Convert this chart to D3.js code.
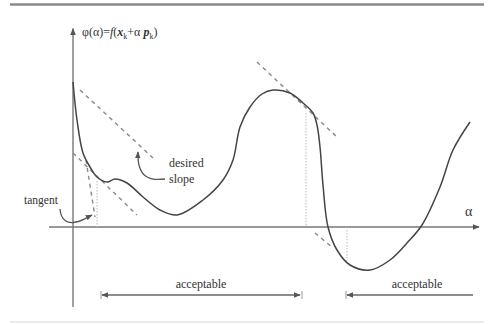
<!DOCTYPE html>
<html>
<head>
<meta charset="utf-8">
<script src="https://cdn.jsdelivr.net/npm/d3@7"></script>
<style>
  body { margin: 0; background: #fff; }
  svg { display: block; }
</style>
</head>
<body>
<div id="chart"></div>
<script>
// step length alpha and phi(alpha)
const curveAlpha = [0, 1, 2.5, 4.25, 6, 8.5, 10.5, 13.5, 17.5, 21.75, 26, 32.5, 37.5, 40, 41.75, 44.25,
  47.25, 50, 54.25, 57.5, 60, 61, 61.75, 62.5, 63.75, 66, 69.25, 74.25, 79.25, 83.5, 87.25, 91.75, 95, 99.25]
const curvePhi = [36.25, 26.75, 18.5, 15, 12.5, 11.25, 12, 11, 7.5, 4.25, 3, 6.75, 11.75, 16.75, 25, 30,
  33.25, 34.25, 33.5, 31, 28.5, 25.5, 20, 10.5, 0, -5.75, -9.5, -10.75, -8.25, -4, 0.5, 10, 19.25, 26.25]

// dashed slope lines [alpha1, phi1, alpha2, phi2]
const slopeLines = [
  [1.75, 34.25, 20, 17.25],
  [0, 18.5, 16, 3],
  [3.25, 16.75, 5.5, 2.5],
  [46, 41.25, 66, 22.5],
  [60.5, -1.5, 65, -5.25]
]
// dotted verticals [alpha, phiFrom, phiTo]
const dropLines = [
  [6, 11.5, 0],
  [58.25, 28.5, 0],
  [68.5, 0, -8.5]
]
// acceptable step intervals
const acceptFrom = [7.25, 68.5]
const acceptTo = [56.75, 100]
const acceptLabel = ['acceptable', 'acceptable']

const width = 492
const height = 324
const serif = '"Liberation Serif", "Times New Roman", "DejaVu Serif", serif'

const x = d3.scaleLinear().domain([0, 100]).range([73, 473])
const y = d3.scaleLinear().domain([-20, 50]).range([307, 27])

const svg = d3.select('#chart').append('svg')
    .attr('width', width)
    .attr('height', height)
    .attr('font-family', serif)

const defs = svg.append('defs')
defs.append('marker')
    .attr('id', 'head')
    .attr('viewBox', '0 0 10 10')
    .attr('refX', 9).attr('refY', 5)
    .attr('markerWidth', 7).attr('markerHeight', 7)
    .attr('markerUnits', 'userSpaceOnUse')
    .attr('orient', 'auto-start-reverse')
  .append('path')
    .attr('d', 'M0,1L10,5L0,9Z')
    .attr('fill', '#555')

// frame lines
svg.append('line')
    .attr('x1', 10).attr('x2', 484).attr('y1', 4.5).attr('y2', 4.5)
    .attr('stroke', '#8a8a8a').attr('stroke-width', 2.5)
svg.append('line')
    .attr('x1', 10).attr('x2', 484).attr('y1', 322).attr('y2', 322)
    .attr('stroke', '#d8d8d8').attr('stroke-width', 1.2)

// axes
svg.append('line')
    .attr('x1', x(0)).attr('x2', x(0))
    .attr('y1', y(-20)).attr('y2', y(49.6))
    .attr('stroke', '#777').attr('stroke-width', 1.4)
    .attr('marker-end', 'url(#head)')
svg.append('line')
    .attr('x1', x(-6)).attr('x2', x(101.5))
    .attr('y1', y(0)).attr('y2', y(0))
    .attr('stroke', '#777').attr('stroke-width', 1.4)
    .attr('marker-end', 'url(#head)')

// dotted drop lines
svg.selectAll('line.drop')
    .data(dropLines).enter()
  .append('line')
    .classed('drop', true)
    .attr('x1', d => x(d[0])).attr('x2', d => x(d[0]))
    .attr('y1', d => y(d[1])).attr('y2', d => y(d[2]))
    .attr('stroke', '#bbb').attr('stroke-width', 1)
    .attr('stroke-dasharray', '1.5,1.5')

// dashed slope lines
svg.selectAll('line.slope')
    .data(slopeLines).enter()
  .append('line')
    .classed('slope', true)
    .attr('x1', d => x(d[0])).attr('y1', d => y(d[1]))
    .attr('x2', d => x(d[2])).attr('y2', d => y(d[3]))
    .attr('stroke', '#888').attr('stroke-width', 1.4)
    .attr('stroke-dasharray', '4,4')

// phi curve
const line = d3.line()
    .x(d => x(d[0]))
    .y(d => y(d[1]))
    .curve(d3.curveCatmullRom.alpha(0.5))

svg.append('path')
    .datum(curveAlpha.map((a, i) => [a, curvePhi[i]]))
    .attr('d', line)
    .attr('fill', 'none')
    .attr('stroke', '#444')
    .attr('stroke-width', 1.5)

// labels
const label = (px, py, size, txt) => svg.append('text')
    .attr('x', px).attr('y', py)
    .attr('font-family', serif)
    .attr('font-size', size)
    .attr('fill', '#333')
    .text(txt)

label(82, 36, 12, '')
    .html('φ(α)=<tspan font-style="italic">f</tspan>(<tspan font-style="italic" font-weight="bold">x</tspan><tspan font-size="8" dy="3">k</tspan><tspan dy="-3">+α</tspan><tspan font-style="italic" font-weight="bold"> p</tspan><tspan font-size="8" dy="3">k</tspan><tspan dy="-3">)</tspan>')

label(465, 216, 14, 'α')
label(24, 204, 11.5, 'tangent')
label(169, 167, 12, 'desired')
label(169, 183, 12, 'slope')

// callout arrows
svg.append('path')
    .attr('d', 'M60,209 C61,221 68,224 76,222 C82,221 86,218 92,215')
    .attr('fill', 'none').attr('stroke', '#555').attr('stroke-width', 1.3)
    .attr('marker-end', 'url(#head)')
svg.append('path')
    .attr('d', 'M165,179 C150,181 137,178 138,152')
    .attr('fill', 'none').attr('stroke', '#555').attr('stroke-width', 1.3)
    .attr('marker-end', 'url(#head)')

// acceptable intervals
const accept = svg.selectAll('g.accept')
    .data(acceptFrom.map((a, i) => ({ from: a, to: acceptTo[i], label: acceptLabel[i], open: i === 1 }))).enter()
  .append('g')
    .classed('accept', true)

accept.append('line')
    .attr('x1', d => x(d.from)).attr('x2', d => x(d.to))
    .attr('y1', 295).attr('y2', 295)
    .attr('stroke', '#666').attr('stroke-width', 1.3)
    .attr('marker-start', 'url(#head)')
    .attr('marker-end', d => d.open ? null : 'url(#head)')

accept.append('line')
    .attr('x1', d => x(d.from) - 1).attr('x2', d => x(d.from) - 1)
    .attr('y1', 291).attr('y2', 299)
    .attr('stroke', '#999').attr('stroke-width', 1)
accept.filter(d => !d.open).append('line')
    .attr('x1', d => x(d.to) + 2).attr('x2', d => x(d.to) + 2)
    .attr('y1', 291).attr('y2', 299)
    .attr('stroke', '#999').attr('stroke-width', 1)

accept.append('text')
    .attr('x', d => d.open ? 417 : (x(d.from) + x(d.to)) / 2)
    .attr('y', 288)
    .attr('text-anchor', 'middle')
    .attr('font-family', serif)
    .attr('font-size', 12)
    .attr('fill', '#333')
    .text(d => d.label)
</script>
</body>
</html>
